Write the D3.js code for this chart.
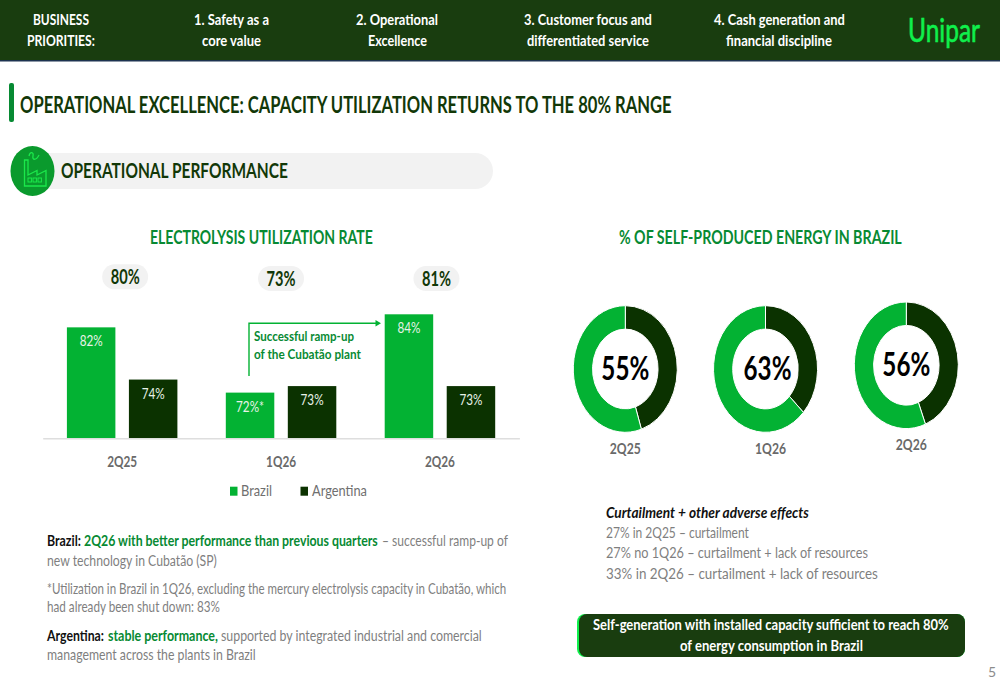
<!DOCTYPE html>
<html lang="en">
<head>
    <meta charset="UTF-8">
    <title>Operational Performance</title>
    <script src="https://d3js.org/d3.v7.min.js"></script>
    <style>
        html, body { margin: 0; padding: 0; background: #fff; }
        svg { display: block; font-family: Lato, "Open Sans", sans-serif; }
    </style>
</head>
<body>
    <svg width="1000" height="685"></svg>

    <script>
        // Chart values
        const categories = ["2Q25", "1Q26", "2Q26"];
        const seriesNames = ["Brazil", "Argentina"];
        const brazil = [82, 72, 84];
        const argentina = [74, 73, 73];
        const brazilLabels = ["82%", "72%*", "84%"];
        const totals = [80, 73, 81];
        const selfProduced = [55, 63, 56];

        const GREEN = "#03b233", DARK = "#0b3200", HEADER = "#193d0f", TITLE_GREEN = "#078a33",
            GRAY = "#7f7f7f", TEXT_DARK = "#123808";

        const svg = d3.select("svg");

        // text squeezed horizontally to the width it has in the slide
        function label(x, y, str, o = {}) {
            const t = svg.append("text")
                .attr("font-size", o.size || 15.5)
                .attr("font-weight", o.weight || 400)
                .attr("font-style", o.italic ? "italic" : "normal")
                .attr("fill", o.fill || GRAY)
                .attr("text-anchor", o.anchor || "start")
                .text(str);
            const k = o.w ? o.w / t.node().getComputedTextLength() : 1;
            t.attr("transform", `translate(${x},${y}) scale(${k},1)`);
            return t;
        }

        // Header band
        svg.append("rect").attr("width", 1000).attr("height", 61).attr("fill", HEADER);
        svg.append("rect").attr("y", 60).attr("width", 1000).attr("height", 1.5).attr("fill", "#1d3350");
        const headerLines = [
            ["BUSINESS", 33, 25, 56], ["PRIORITIES:", 27, 46, 68],
            ["1. Safety as a", 194, 25, 75], ["core value", 202, 46, 59],
            ["2. Operational", 356, 25, 82], ["Excellence", 368, 46, 59],
            ["3. Customer focus and", 524, 25, 128], ["differentiated service", 527, 46, 122],
            ["4. Cash generation and", 714, 25, 131], ["financial discipline", 726, 46, 106]
        ];
        headerLines.forEach(d => label(d[1], d[2], d[0], { size: 16, weight: 700, fill: "#fff", w: d[3] }));
        label(908, 42, "Unipar", { size: 32, fill: "#0ff04c", w: 72 })
            .attr("stroke", "#0ff04c").attr("stroke-width", 0.6);

        // Slide title
        svg.append("rect").attr("x", 9).attr("y", 83).attr("width", 5).attr("height", 39).attr("rx", 2).attr("fill", "#078a33");
        label(20, 113, "OPERATIONAL EXCELLENCE: CAPACITY UTILIZATION RETURNS TO THE 80% RANGE",
            { size: 22, weight: 700, fill: TEXT_DARK, w: 652 });

        // Section heading with the factory badge
        svg.append("rect").attr("x", 30).attr("y", 153).attr("width", 463).attr("height", 36).attr("rx", 18).attr("fill", "#f2f2f2");
        svg.append("ellipse").attr("cx", 32.5).attr("cy", 171).attr("rx", 22).attr("ry", 25).attr("fill", "#0a9a2d");
        svg.append("path")
            .attr("d", "M24.5 160V186H46V170.5L37 175V170.5L28 175V160Z M29 156C30 151 34 152 33 156C32 160 36 161 39 155")
            .attr("fill", "none").attr("stroke", "#1be84b").attr("stroke-width", 1.3);
        [29, 34, 39].forEach(x => svg.append("rect").attr("x", x - 1).attr("y", 178).attr("width", 3.4).attr("height", 4)
            .attr("fill", "none").attr("stroke", "#1be84b").attr("stroke-width", 1));
        label(61, 178, "OPERATIONAL PERFORMANCE", { size: 21, weight: 700, fill: TEXT_DARK, w: 227 });

        // Chart headings
        label(150, 244, "ELECTROLYSIS UTILIZATION RATE", { size: 18, weight: 700, fill: TITLE_GREEN, w: 223 });
        label(619, 244, "% OF SELF-PRODUCED ENERGY IN BRAZIL", { size: 18, weight: 700, fill: TITLE_GREEN, w: 283 });

        // Bars: the value axis is cut, it starts near 65
        const x0 = d3.scaleBand().domain(categories).range([42.7, 519.4]);
        const x1 = d3.scaleBand().domain(seriesNames).range([-55.25, 55.25]).paddingInner(0.218);
        const y = d3.scaleLinear().domain([65, 84]).range([438.3, 314.3]);

        const barRows = categories.flatMap((c, i) => [
            { c, s: "Brazil", v: brazil[i], text: brazilLabels[i] },
            { c, s: "Argentina", v: argentina[i], text: argentina[i] + "%" }
        ]);
        const cx = d => x0(d.c) + x0.bandwidth() / 2 + x1(d.s);

        svg.append("g").selectAll("rect").data(barRows).join("rect")
            .attr("x", cx)
            .attr("y", d => y(d.v))
            .attr("width", x1.bandwidth())
            .attr("height", d => y.range()[0] - y(d.v))
            .attr("fill", d => d.s === "Brazil" ? GREEN : DARK);

        svg.append("g").selectAll("text").data(barRows).join("text")
            .attr("x", d => cx(d) + x1.bandwidth() / 2)
            .attr("y", d => y(d.v) + 19)
            .attr("text-anchor", "middle")
            .attr("font-size", 15)
            .attr("fill", "#e8f2e8")
            .attr("textLength", d => d.text.length > 3 ? 28 : 23)
            .attr("lengthAdjust", "spacingAndGlyphs")
            .text(d => d.text);

        const axis = svg.append("g")
            .attr("transform", `translate(0,${y.range()[0]})`)
            .call(d3.axisBottom(x0).tickSize(0).tickPadding(17));
        axis.select(".domain").attr("stroke", "#dedede").attr("stroke-width", 1.5);
        axis.selectAll("text").attr("font-family", "Lato").attr("font-size", 16).attr("font-weight", 700).attr("fill", "#6a6a6a")
            .attr("textLength", 30).attr("lengthAdjust", "spacingAndGlyphs");

        // Totals in pills above each group
        const pillY = [264.3, 266, 266];
        const pillShift = [3, 0, -3.5];
        totals.forEach((v, i) => {
            const c = x0(categories[i]) + x0.bandwidth() / 2 + pillShift[i];
            svg.append("rect").attr("x", c - 23).attr("y", pillY[i]).attr("width", 46).attr("height", 25)
                .attr("rx", 12.5).attr("fill", "#f2f2f2");
            label(c, pillY[i] + 19.5, v + "%", { size: 20, weight: 700, fill: TEXT_DARK, anchor: "middle", w: 29 });
        });

        // Ramp-up callout
        svg.append("path").attr("d", "M249 376V323.3H376").attr("fill", "none").attr("stroke", GREEN).attr("stroke-width", 1.4);
        svg.append("path").attr("d", "M375.5 320L381 323.3L375.5 326.6Z").attr("fill", GREEN);
        label(254, 341, "Successful ramp-up", { size: 14, weight: 700, fill: TITLE_GREEN, w: 100 });
        label(254, 359, "of the Cubatão plant", { size: 14, weight: 700, fill: TITLE_GREEN, w: 107 });

        // Legend
        const legendItems = [[230, 241, 31], [300.5, 312, 55]];
        seriesNames.forEach((s, i) => {
            svg.append("rect").attr("x", legendItems[i][0]).attr("y", 486.7).attr("width", 7.5).attr("height", 9)
                .attr("fill", i === 0 ? GREEN : DARK);
            label(legendItems[i][1], 496, s, { size: 16, fill: "#6f6f6f", w: legendItems[i][2] });
        });

        // Donuts are drawn round, then stretched to the slide's oval
        const pie = d3.pie().sort(null);
        const arc = d3.arc().innerRadius(0.63).outerRadius(1);
        const donutCx = [625.3, 765.5, 906.3];
        const donutCy = [369, 369, 365.3];
        selfProduced.forEach((v, i) => {
            const g = svg.append("g").attr("transform", `translate(${donutCx[i]},${donutCy[i]}) scale(52,63.3)`);
            g.selectAll("path").data(pie([100 - v, v])).join("path")
                .attr("d", arc)
                .attr("fill", (d, j) => j === 0 ? DARK : GREEN)
                .attr("stroke", "#fff")
                .attr("stroke-width", 1)
                .attr("vector-effect", "non-scaling-stroke");
            label(donutCx[i] + (i === 1 ? 2 : 0), donutCy[i] + 11, v + "%",
                { size: 32, weight: 700, fill: "#000", anchor: "middle", w: 48 });
            label(donutCx[i] + (i === 0 ? 0 : 5), donutCy[i] + 85, categories[i],
                { size: 16, weight: 700, fill: "#6a6a6a", anchor: "middle", w: 31 });
        });

        // Left notes
        label(47, 546, "Brazil:", { weight: 700, fill: "#111", w: 34 });
        label(84, 546, "2Q26 with better performance than previous quarters", { weight: 700, fill: TITLE_GREEN, w: 294 });
        label(382, 546, "– successful ramp-up of", { w: 126 });
        label(47, 566, "new technology in Cubatão (SP)", { w: 170 });
        label(47, 594, "*Utilization in Brazil in 1Q26, excluding the mercury electrolysis capacity in Cubatão, which", { w: 460 });
        label(47, 612, "had already been shut down: 83%", { w: 173 });
        label(47, 641, "Argentina:", { weight: 700, fill: "#111", w: 57 });
        label(108, 641, "stable performance,", { weight: 700, fill: TITLE_GREEN, w: 110 });
        label(221, 641, "supported by integrated industrial and comercial", { w: 261 });
        label(47, 660, "management across the plants in Brazil", { w: 209 });

        // Right notes
        label(606, 518, "Curtailment + other adverse effects", { size: 16, weight: 700, italic: true, fill: "#111", w: 203 });
        label(606, 538, "27% in 2Q25 – curtailment", { w: 143 });
        label(606, 558, "27% no 1Q26 – curtailment + lack of resources", { size: 16, w: 262 });
        label(606, 579, "33% in 2Q26 – curtailment + lack of resources", { size: 16, w: 272 });

        // Call-out box
        svg.append("rect").attr("x", 577).attr("y", 614).attr("width", 388).attr("height", 43).attr("rx", 8)
            .attr("fill", "#0ff04c");
        svg.append("rect").attr("x", 579).attr("y", 614).attr("width", 386).attr("height", 43).attr("rx", 8)
            .attr("fill", HEADER);
        label(593, 630, "Self-generation with installed capacity sufficient to reach 80%", { size: 15.5, weight: 700, fill: "#fff", w: 356 });
        label(680, 651, "of energy consumption in Brazil", { size: 15.5, weight: 700, fill: "#fff", w: 183 });

        label(988, 677, "5", { size: 14, fill: "#8c8c8c" });
    </script>
</body>
</html>
